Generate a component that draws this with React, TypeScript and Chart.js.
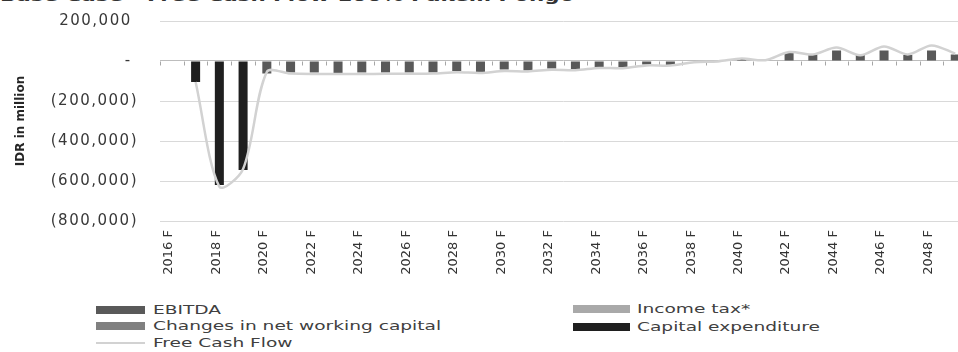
import { useEffect, useRef } from 'react';
import { Chart, registerables } from 'chart.js';

Chart.register(...registerables);

const YEARS = [
  '2016 F', '2017 F', '2018 F', '2019 F', '2020 F', '2021 F', '2022 F', '2023 F', '2024 F', '2025 F',
  '2026 F', '2027 F', '2028 F', '2029 F', '2030 F', '2031 F', '2032 F', '2033 F', '2034 F', '2035 F',
  '2036 F', '2037 F', '2038 F', '2039 F', '2040 F', '2041 F', '2042 F', '2043 F', '2044 F', '2045 F',
  '2046 F', '2047 F', '2048 F', '2049 F',
];

const EBITDA = [
  null, null, null, null, -62000, -58000, -58000, -60000, -58000, -58000,
  -58000, -58000, -50000, -57000, -43000, -47000, -38000, -43000, -30000, -33000,
  -17000, -20000, -3000, 2000, 12000, 3000, 40000, 33000, 53000, 30000,
  53000, 30000, 53000, 33000,
];

const INCOME_TAX = [
  0, 0, 0, 0, 0, 0, 0, 0, 0, 0,
  0, 0, 0, 0, 0, 0, 0, 0, 0, 0,
  0, 0, 0, 0, 0, 0, 0, 0, 0, 0,
  0, 0, 0, 0,
];

const CHANGES_NWC = [
  0, 0, 0, 0, 0, 0, 0, 0, 0, 0,
  0, 0, 0, 0, 0, 0, 0, 0, 0, 0,
  0, 0, 0, 0, 0, 0, 0, 0, 0, 0,
  0, 0, 0, 0,
];

const CAPEX = [
  null, -105000, -620000, -545000, null, null, null, null, null, null,
  null, null, null, null, null, null, null, null, null, null,
  null, null, null, null, null, null, null, null, null, null,
  null, null, null, null,
];

const FREE_CASH_FLOW = [
  null, -105000, -628000, -540000, -55000, -63000, -65000, -65000, -65000, -64000,
  -64000, -63000, -56000, -60000, -50000, -52000, -44000, -46000, -35000, -36000,
  -22000, -23000, -6000, -2000, 12000, 4000, 45000, 33000, 67000, 29000,
  73000, 33000, 78000, 37000,
];

const Y_MIN = -800000;
const Y_MAX = 200000;
const Y_STEP = 200000;

const LABEL_EBITDA = 'EBITDA';
const LABEL_TAX = 'Income tax*';
const LABEL_NWC = 'Changes in net working capital';
const LABEL_CAPEX = 'Capital expenditure';
const LABEL_FCF = 'Free Cash Flow';
const Y_TITLE = 'IDR in million';
const CHART_TITLE = 'Base Case - Free Cash Flow 100% Pakem Pongo';

const COLORS = {
  ebitda: '#595959',
  tax: '#a9a9a9',
  nwc: '#808080',
  capex: '#1f1f1f',
  fcf: '#d2d2d2',
};

const spacingPlugin = {
  id: 'spacingPlugin',
  beforeDraw(chart: any) {
    const ctx: any = chart.ctx;
    if (ctx.__spaced) return;
    ctx.__spaced = true;
    const orig = ctx.fillText;
    ctx.fillText = function (text: string, x: number, y: number, mw?: number) {
      const m = this.getTransform();
      this.letterSpacing = Math.abs(m.b) > 0.5 ? '0px' : '1.5px';
      if (mw === undefined) return orig.call(this, text, x, y);
      return orig.call(this, text, x, y, mw);
    };
  },
};

const axisTickPlugin = {
  id: 'axisTickPlugin',
  beforeDatasetsDraw(chart: any) {
    const { ctx } = chart;
    const xs = chart.scales.x;
    const ys = chart.scales.y;
    const n = xs.getLabels().length;
    const step = xs.width / n;
    const y0 = Math.round(ys.getPixelForValue(0)) + 0.5;
    ctx.save();
    ctx.strokeStyle = '#a6a6a6';
    ctx.lineWidth = 1;
    ctx.beginPath();
    for (let i = 0; i <= n; i++) {
      const px = Math.round(xs.left + i * step) + 0.5;
      ctx.moveTo(px, y0);
      ctx.lineTo(px, y0 + 4);
    }
    ctx.stroke();
    ctx.restore();
  },
};

function fmt(v: number): string {
  if (v === 0) return '- ';
  const s = Math.abs(v).toLocaleString('en-US');
  return v < 0 ? `(${s})` : `${s} `;
}

export default function App() {
  const ref = useRef<HTMLCanvasElement | null>(null);

  useEffect(() => {
    if (!ref.current) return;
    const barCommon = {
      type: 'bar' as const,
      barPercentage: 0.38,
      categoryPercentage: 1.0,
      borderWidth: 0,
      order: 1,
      stack: 'bars',
    };
    const chart = new Chart(ref.current, {
      type: 'bar',
      data: {
        labels: YEARS,
        datasets: [
          {
            type: 'line',
            label: LABEL_FCF,
            data: FREE_CASH_FLOW,
            borderColor: COLORS.fcf,
            backgroundColor: COLORS.fcf,
            borderWidth: 2.5,
            pointRadius: 0,
            tension: 0.3,
            fill: false,
            order: 0,
            stack: 'fcf',
          } as any,
          { ...barCommon, label: LABEL_EBITDA, data: EBITDA, backgroundColor: COLORS.ebitda },
          { ...barCommon, label: LABEL_TAX, data: INCOME_TAX, backgroundColor: COLORS.tax },
          { ...barCommon, label: LABEL_NWC, data: CHANGES_NWC, backgroundColor: COLORS.nwc },
          { ...barCommon, label: LABEL_CAPEX, data: CAPEX, backgroundColor: COLORS.capex },
        ],
      },
      options: {
        animation: false,
        responsive: false,
        layout: { autoPadding: false, padding: { top: 21, right: 9, left: 0, bottom: 0 } },
        plugins: { legend: { display: false }, tooltip: { enabled: false } },
        scales: {
          x: {
            stacked: true,
            grid: { display: false, drawTicks: false },
            border: { display: false },
            ticks: {
              autoSkip: false,
              minRotation: 90,
              maxRotation: 90,
              padding: 9,
              labelOffset: -3,
              color: '#333333',
              font: { family: 'DejaVu Sans', size: 13 },
              callback: function (this: any, v: any, i: number) {
                return i % 2 === 0 ? this.getLabelForValue(v) : '';
              },
            },
            afterFit(s: any) {
              s.height = 69;
              s.paddingTop = 0;
              s.paddingBottom = 0;
            },
          },
          y: {
            stacked: true,
            min: Y_MIN,
            max: Y_MAX,
            grid: {
              drawTicks: false,
              lineWidth: 1,
              color: (c: any) => (c.tick && c.tick.value === 0 ? '#bdbdbd' : '#d9d9d9'),
            },
            border: { display: false },
            ticks: {
              stepSize: Y_STEP,
              padding: 22,
              color: '#383838',
              font: { family: 'DejaVu Sans', size: 15 },
              callback: (v: any) => fmt(Number(v)),
            },
            title: {
              display: true,
              text: Y_TITLE,
              color: '#262626',
              font: { family: 'DejaVu Sans', size: 12, weight: 'bold' },
              padding: { top: 14, bottom: 0 },
            },
            afterFit(s: any) {
              s.width = 160;
              s.paddingTop = 0;
              s.paddingBottom = 0;
            },
          },
        },
      },
      plugins: [spacingPlugin, axisTickPlugin],
    } as any);
    return () => chart.destroy();
  }, []);

  const textStyle: any = {
    position: 'absolute',
    font: '13px "DejaVu Sans"',
    color: '#404040',
    whiteSpace: 'nowrap',
    transform: 'scaleX(1.43)',
    transformOrigin: 'left center',
    lineHeight: '16px',
    height: 16,
  };

  const legendRows = [
    { label: LABEL_EBITDA, color: COLORS.ebitda, x: 96, w: 49, tx: 153, cy: 309.5, h: 8 },
    { label: LABEL_NWC, color: COLORS.nwc, x: 96, w: 49, tx: 153, cy: 326, h: 8 },
    { label: LABEL_FCF, color: COLORS.fcf, x: 96, w: 49, tx: 153, cy: 343, h: 2 },
    { label: LABEL_TAX, color: COLORS.tax, x: 573, w: 57, tx: 637, cy: 308.5, h: 8 },
    { label: LABEL_CAPEX, color: COLORS.capex, x: 573, w: 57, tx: 637, cy: 326.5, h: 8 },
  ];

  return (
    <div
      style={{
        position: 'absolute',
        left: 0,
        top: 0,
        width: 958,
        height: 352,
        overflow: 'hidden',
        background: '#ffffff',
      }}
    >
      <div
        style={{
          position: 'absolute',
          left: 0,
          top: -12,
          font: 'bold 15px "DejaVu Sans"',
          color: '#333333',
          whiteSpace: 'nowrap',
          lineHeight: '16px',
          transform: 'scaleX(1.43)',
          transformOrigin: 'left center',
        }}
      >
        {CHART_TITLE}
      </div>
      <canvas
        ref={ref}
        width={980}
        height={290}
        style={{ position: 'absolute', left: 0, top: 0, width: 980, height: 290 }}
      />
      {legendRows.map((r) => (
        <div key={r.label}>
          <div
            style={{
              position: 'absolute',
              left: r.x,
              top: r.cy - r.h / 2,
              width: r.w,
              height: r.h,
              background: r.color,
            }}
          />
          <div style={{ ...textStyle, left: r.tx, top: r.cy - 8 }}>{r.label}</div>
        </div>
      ))}
    </div>
  );
}
